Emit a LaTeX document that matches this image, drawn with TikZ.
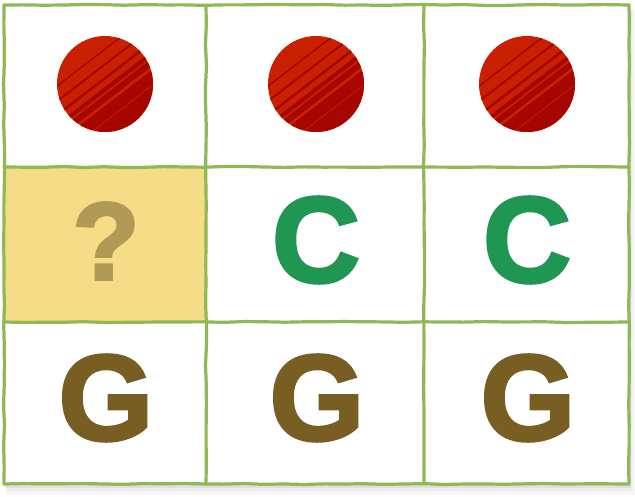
\documentclass[tikz,border=0pt]{standalone}
\usepackage{fontspec}
\newfontfamily\heavy[FakeBold=2.6]{Liberation Sans Bold}
\usetikzlibrary{decorations.pathmorphing}
\definecolor{gridgreen}{RGB}{143,185,84}
\definecolor{cellyellow}{RGB}{246,220,135}
\definecolor{qcol}{RGB}{176,154,86}
\definecolor{dotred}{RGB}{200,32,0}
\definecolor{dotdark}{RGB}{166,6,0}
\definecolor{ccol}{RGB}{31,150,82}
\definecolor{gcol}{RGB}{121,94,36}
\begin{document}
\begin{tikzpicture}[x=1pt,y=-1pt,
  gridline/.style={draw=gridgreen, line width=3.2pt, line cap=round,
    decorate, decoration={random steps, segment length=20pt, amplitude=0.5pt}},
  letter/.style={inner sep=0pt, font=\heavy\fontsize{122}{122}\selectfont},
  qmark/.style={inner sep=0pt, text=qcol, font=\heavy\fontsize{110}{110}\selectfont},
  dot/.style={circle, fill=dotred, draw=none, minimum size=96pt, inner sep=0pt},
  hatch/.style={draw=dotdark, line cap=round}]
\pgfmathsetseed{7}
\useasboundingbox (0,0) rectangle (635,497);
\fill[white] (0,0) rectangle (635,497);
% shadow
\fill[black, opacity=0.03] (7,10) rectangle (635,495);
\fill[black, opacity=0.04] (6,8) rectangle (633,491);
\fill[black, opacity=0.05] (5,6) rectangle (631,488);
% grid background
\coordinate (tl) at (4,5);
\coordinate (br) at (629,484);
\fill[white] (tl) rectangle (br);
\coordinate (y1) at (4,167);
\coordinate (y2) at (206,322);
\fill[cellyellow] (y1) rectangle (y2);
% top row dots
\node[dot] (d1) at (105,84) {};
\node[dot] (d2) at (316,84) {};
\node[dot] (d3) at (527,84) {};
\foreach \n in {d1,d2,d3}{
  \begin{scope}
    \clip (\n.center) circle [radius=48pt];
    \foreach \d/\w in {-26/1.5,-14/2,-3/2.5,6/4,13/6,21/4,27/8,35/6,41/9,48/7}{
      \draw[hatch, line width=\w pt] ([shift={(0.6*\d-52,0.8*\d+38)}]\n.center) -- ++(104,-80);
    }
  \end{scope}
}
% question mark
\node[qmark] (q) at (106,241) {?};
% C letters
\node[letter, text=ccol] (c1) at (316,240) {C};
\node[letter, text=ccol] (c2) at (527,240) {C};
% G letters
\node[letter, text=gcol] (g1) at (106,398) {G};
\node[letter, text=gcol] (g2) at (317,398) {G};
\node[letter, text=gcol] (g3) at (528,398) {G};
% grid lines
\coordinate (a0) at (4,5);   \coordinate (a3) at (629,5);
\coordinate (b0) at (4,167); \coordinate (b3) at (629,167);
\coordinate (c0) at (4,322); \coordinate (c3) at (629,322);
\coordinate (e0) at (4,484); \coordinate (e3) at (629,484);
\coordinate (v1t) at (206,5); \coordinate (v1b) at (206,484);
\coordinate (v2t) at (424,5); \coordinate (v2b) at (424,484);
\draw[gridline] (a0) -- (a3);
\draw[gridline] (b0) -- (b3);
\draw[gridline] (c0) -- (c3);
\draw[gridline] (e0) -- (e3);
\draw[gridline] (a0) -- (e0);
\draw[gridline] (v1t) -- (v1b);
\draw[gridline] (v2t) -- (v2b);
\draw[gridline] (a3) -- (e3);
\end{tikzpicture}
\end{document}
